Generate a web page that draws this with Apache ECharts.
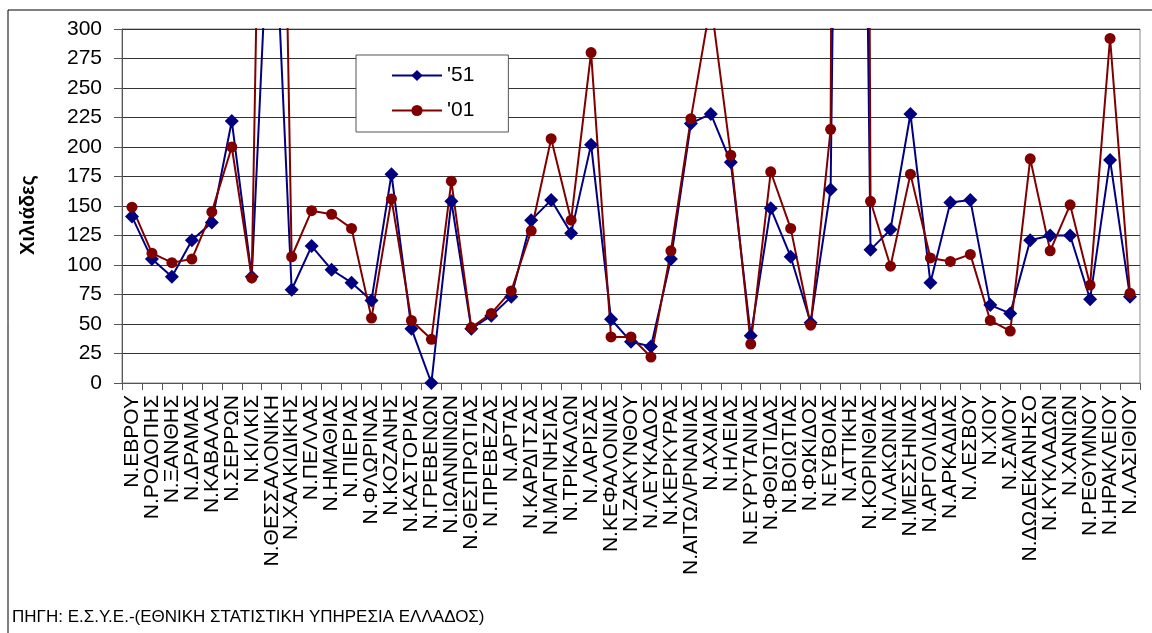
<!DOCTYPE html>
<html>
<head>
<meta charset="utf-8">
<script src="https://cdn.jsdelivr.net/npm/echarts@6/dist/echarts.min.js"></script>
<style>
  html, body { margin: 0; padding: 0; background: #fff; }
  #chart-container { width: 1152px; height: 633px; }
</style>
</head>
<body>
<div id="chart-container"></div>
<script>
// Νομοί (κατηγορίες άξονα x)
var nomoi = ['Ν.ΕΒΡΟΥ', 'Ν.ΡΟΔΟΠΗΣ', 'Ν.ΞΑΝΘΗΣ', 'Ν.ΔΡΑΜΑΣ', 'Ν.ΚΑΒΑΛΑΣ', 'Ν.ΣΕΡΡΩΝ', 'Ν.ΚΙΛΚΙΣ',
    'Ν.ΘΕΣΣΑΛΟΝΙΚΗ', 'Ν.ΧΑΛΚΙΔΙΚΗΣ', 'Ν.ΠΕΛΛΑΣ', 'Ν.ΗΜΑΘΙΑΣ', 'Ν.ΠΙΕΡΙΑΣ', 'Ν.ΦΛΩΡΙΝΑΣ', 'Ν.ΚΟΖΑΝΗΣ',
    'Ν.ΚΑΣΤΟΡΙΑΣ', 'Ν.ΓΡΕΒΕΝΩΝ', 'Ν.ΙΩΑΝΝΙΝΩΝ', 'Ν.ΘΕΣΠΡΩΤΙΑΣ', 'Ν.ΠΡΕΒΕΖΑΣ', 'Ν.ΑΡΤΑΣ', 'Ν.ΚΑΡΔΙΤΣΑΣ',
    'Ν.ΜΑΓΝΗΣΙΑΣ', 'Ν.ΤΡΙΚΑΛΩΝ', 'Ν.ΛΑΡΙΣΑΣ', 'Ν.ΚΕΦΑΛΟΝΙΑΣ', 'Ν.ΖΑΚΥΝΘΟΥ', 'Ν.ΛΕΥΚΑΔΟΣ', 'Ν.ΚΕΡΚΥΡΑΣ',
    'Ν.ΑΙΤΩΛ/ΡΝΑΝΙΑΣ', 'Ν.ΑΧΑΙΑΣ', 'Ν.ΗΛΕΙΑΣ', 'Ν.ΕΥΡΥΤΑΝΙΑΣ', 'Ν.ΦΘΙΩΤΙΔΑΣ', 'Ν.ΒΟΙΩΤΙΑΣ', 'Ν.ΦΩΚΙΔΟΣ',
    'Ν.ΕΥΒΟΙΑΣ', 'Ν.ΑΤΤΙΚΗΣ', 'Ν.ΚΟΡΙΝΘΙΑΣ', 'Ν.ΛΑΚΩΝΙΑΣ', 'Ν.ΜΕΣΣΗΝΙΑΣ', 'Ν.ΑΡΓΟΛΙΔΑΣ', 'Ν.ΑΡΚΑΔΙΑΣ',
    'Ν.ΛΕΣΒΟΥ', 'Ν.ΧΙΟΥ', 'Ν.ΣΑΜΟΥ', 'Ν.ΔΩΔΕΚΑΝΗΣΟ', 'Ν.ΚΥΚΛΑΔΩΝ', 'Ν.ΧΑΝΙΩΝ', 'Ν.ΡΕΘΥΜΝΟΥ',
    'Ν.ΗΡΑΚΛΕΙΟΥ', 'Ν.ΛΑΣΙΘΙΟΥ'];

// Πληθυσμός σε χιλιάδες
var pop1951 = [141, 105, 90, 121, 136, 222, 90, 457, 79, 116, 96, 85, 70, 177, 46, 0, 154, 46, 57, 73,
    138, 155, 127, 202, 54, 35, 31, 105, 220, 228, 187, 40, 148, 107, 51, 164, 1555, 113, 130, 228,
    85, 153, 155, 66, 59, 121, 125, 125, 71, 189, 73];
var pop2001 = [149, 110, 102, 105, 145, 200, 89, 1058, 107, 146, 143, 131, 55, 156, 53, 37, 171, 47, 59, 78,
    129, 207, 138, 280, 39, 39, 22, 112, 224, 323, 193, 33, 179, 131, 49, 215, 3761, 154, 99, 177,
    106, 103, 109, 53, 44, 190, 112, 151, 83, 292, 76];

var seriesNames = ["'51", "'01"];
var yMin = 0, yMax = 300, yStep = 25;

var font = "'Liberation Sans', Arial, sans-serif";

var dom = document.getElementById('chart-container');
var myChart = echarts.init(dom, null, { renderer: 'canvas' });

var option = {
    backgroundColor: '#fff',
    animation: false,
    textStyle: { fontFamily: font, color: '#000' },
    grid: {
        left: 122,
        right: 12,
        top: 29,
        bottom: 250,
        show: true,
        borderColor: '#888',
        borderWidth: 1
    },
    legend: {
        orient: 'vertical',
        left: 356,
        top: 55,
        padding: [10, 34, 11, 35],
        itemWidth: 50,
        itemHeight: 14,
        itemGap: 14,
        backgroundColor: '#fff',
        borderColor: '#555',
        borderWidth: 1,
        textStyle: { fontSize: 21, fontFamily: font, color: '#000' },
        data: seriesNames
    },
    xAxis: {
        type: 'category',
        data: nomoi,
        boundaryGap: true,
        axisLine: { lineStyle: { color: '#555', width: 1 } },
        axisTick: { show: true, length: 7, lineStyle: { color: '#555' } },
        axisLabel: {
            interval: 0,
            rotate: 90,
            margin: 12,
            fontSize: 21,
            color: '#000',
            fontFamily: font
        },
        splitLine: { show: false }
    },
    yAxis: {
        type: 'value',
        min: yMin,
        max: yMax,
        interval: yStep,
        axisLine: { show: true, lineStyle: { color: '#555' } },
        axisTick: { show: true, length: 8, lineStyle: { color: '#555' } },
        axisLabel: { fontSize: 21, margin: 20, color: '#000', fontFamily: font },
        splitLine: { show: true, lineStyle: { color: '#333', width: 1 } }
    },
    series: [
        {
            name: seriesNames[0],
            type: 'line',
            data: pop1951,
            symbol: 'diamond',
            symbolSize: 14,
            lineStyle: { color: '#000080', width: 2 },
            itemStyle: { color: '#000080' }
        },
        {
            name: seriesNames[1],
            type: 'line',
            data: pop2001,
            symbol: 'circle',
            symbolSize: 11,
            lineStyle: { color: '#800000', width: 2 },
            itemStyle: { color: '#800000' }
        }
    ],
    graphic: [
        // εξωτερικό πλαίσιο (πάνω και αριστερά)
        { type: 'line', shape: { x1: 8, y1: 10, x2: 1152, y2: 10 }, style: { stroke: '#000', lineWidth: 1 } },
        { type: 'line', shape: { x1: 8, y1: 10, x2: 8, y2: 633 }, style: { stroke: '#000', lineWidth: 1 } },
        {
            type: 'text',
            x: 28,
            y: 215,
            rotation: Math.PI / 2,
            style: {
                text: 'Χιλιάδες',
                fontSize: 20,
                fontWeight: 'bold',
                fontFamily: font,
                fill: '#000',
                textAlign: 'center',
                textVerticalAlign: 'middle'
            }
        },
        {
            type: 'text',
            x: 12,
            y: 617,
            style: {
                text: 'ΠΗΓΗ: Ε.Σ.Υ.Ε.-(ΕΘΝΙΚΗ ΣΤΑΤΙΣΤΙΚΗ ΥΠΗΡΕΣΙΑ ΕΛΛΑΔΟΣ)',
                fontSize: 17,
                fontFamily: font,
                fill: '#000',
                textAlign: 'left',
                textVerticalAlign: 'middle'
            }
        }
    ]
};

myChart.setOption(option);

window.addEventListener('resize', function () {
    myChart.resize();
});
</script>
</body>
</html>
